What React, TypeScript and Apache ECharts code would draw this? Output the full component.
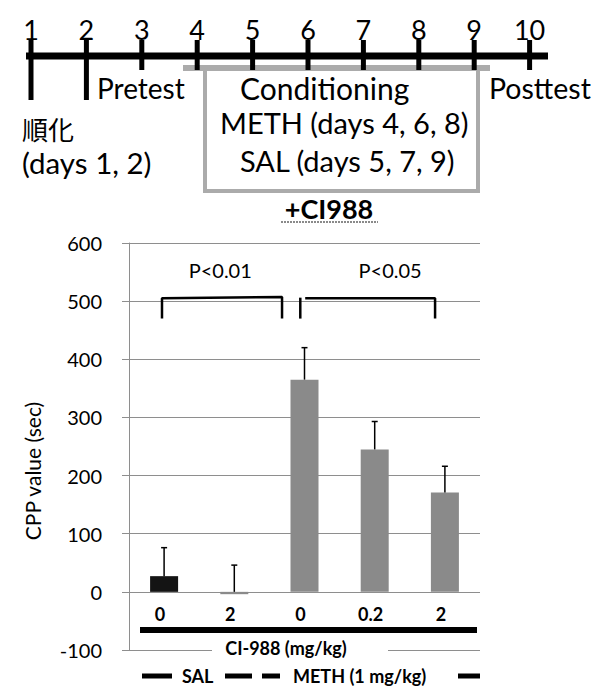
import React, { useEffect, useRef } from 'react';
import * as echarts from 'echarts';

// ---- data ----
const categories = ['0', '2', '0', '0.2', '2'];
const cppValues = [27, -4, 365, 245, 171];
const cppErrors = [49, 46, 55, 48, 45];
const yMin = -100;
const yMax = 600;
const yStep = 100;
const days = ['1', '2', '3', '4', '5', '6', '7', '8', '9', '10'];
const bracketLeft = [[-0.03, 470], [-0.03, 505], [1.68, 507], [1.68, 470]];
const bracketRightLeg = [[1.94, 470], [1.94, 506]];
const bracketRight = [[2.01, 505], [3.86, 505], [3.86, 470]];
const pValueLabels = ['P<0.01', 'P<0.05'];
const pValuePos = [[0.8, 554], [3.22, 554]];
const xAxisTitle = 'CI-988 (mg/kg)';
const yAxisTitle = 'CPP value (sec)';
const chartTitle = '+CI988';

// ---- styles ----
const barColors = ['#141414', '#8a8a8a', '#8a8a8a', '#8a8a8a', '#8a8a8a'];
const FONT = 'Lato';
const CJK = 'Noto Sans CJK JP';
const GRID = '#8e8e8e';

function txt(text: string, x: number, y: number, size: number, opts: any = {}) {
  const align = opts.align || 'left';
  return {
    type: 'text',
    z: 10,
    style: {
      text,
      x,
      y,
      fill: '#000',
      fontSize: size,
      fontFamily: opts.family || FONT,
      fontWeight: opts.weight || 'normal',
      align,
      verticalAlign: 'middle',
      textAlign: align,
      textVerticalAlign: 'middle',
    },
  };
}

function timelineGraphics() {
  const els: any[] = [];
  const t0 = 31;
  const step = 55.4;
  const lineY = 56;
  // grey conditioning box
  const boxStroke = { stroke: '#ababab', lineWidth: 4, fill: 'none' };
  els.push({ type: 'line', shape: { x1: 183, y1: 68, x2: 490, y2: 68 }, style: { stroke: '#ababab', lineWidth: 6 } });
  els.push({ type: 'polyline', shape: { points: [[205, 68], [205, 191], [478, 191], [478, 68]] }, style: boxStroke });
  // main line
  els.push({ type: 'line', shape: { x1: 26, y1: lineY, x2: 548, y2: lineY }, style: { stroke: '#000', lineWidth: 7 } });
  days.forEach((d, i) => {
    const x = t0 + i * step;
    els.push({ type: 'line', shape: { x1: x, y1: 40, x2: x, y2: i < 2 ? 100 : 70 }, style: { stroke: '#000', lineWidth: 5 } });
    els.push(txt(d, x, 29, 27, { align: 'center' }));
  });
  els.push(txt('Pretest', 97, 88, 28));
  els.push(txt('Conditioning', 240, 88, 30));
  els.push(txt('Posttest', 489, 88, 28.5));
  els.push(txt('順化', 22, 128, 26, { family: CJK }));
  els.push(txt('(days 1, 2)', 22, 162, 29.5));
  els.push(txt('METH (days 4, 6, 8)', 220, 122, 29));
  els.push(txt('SAL (days 5, 7, 9)', 240, 160, 29));
  return els;
}

function chartGraphics() {
  const els: any[] = [];
  // title with underline
  els.push(txt(chartTitle, 329, 208, 27, { align: 'center', weight: 'bold' }));
  els.push({ type: 'line', shape: { x1: 281, y1: 222, x2: 378, y2: 222 }, style: { stroke: '#8a8a8a', lineWidth: 2, lineDash: [2, 1] } });
  // y axis title
  els.push({
    type: 'text',
    x: 32,
    y: 471,
    rotation: Math.PI / 2,
    z: 10,
    style: {
      text: yAxisTitle, x: 0, y: 0, fill: '#000', fontSize: 21, fontFamily: FONT,
      align: 'center', verticalAlign: 'middle', textAlign: 'center', textVerticalAlign: 'middle',
    },
  });
  // group bar under category labels
  els.push({ type: 'rect', shape: { x: 140, y: 627, width: 337, height: 6 }, style: { fill: '#000' } });
  // x axis title with white backdrop
  els.push({ type: 'rect', shape: { x: 212, y: 640, width: 176, height: 18 }, style: { fill: '#fff' }, z: 9 });
  els.push(txt(xAxisTitle, 286, 648, 18, { align: 'center', weight: 'bold' }));
  // legend-like group row
  const ly = 676;
  const dash = (x1: number, x2: number) => ({ type: 'rect', shape: { x: x1, y: ly - 2.5, width: x2 - x1, height: 5 }, style: { fill: '#000' } });
  els.push(dash(142, 172));
  els.push(txt('SAL', 182, ly, 18, { weight: 'bold' }));
  els.push(dash(225, 252));
  els.push(dash(262, 280));
  els.push(txt('METH (1 mg/kg)', 293, ly, 18, { weight: 'bold' }));
  els.push(dash(458, 480));
  return els;
}

export default function App() {
  const ref = useRef<HTMLDivElement>(null);
  useEffect(() => {
    document.body.style.margin = '0';
    if (!ref.current) return;
    const chart = echarts.init(ref.current, undefined, { renderer: 'svg' });
    const bracketStyle = { color: '#000', width: 2.5 };
    const bracketSeries = [bracketLeft, bracketRightLeg, bracketRight].map((d) => ({
      type: 'line',
      xAxisIndex: 1,
      yAxisIndex: 0,
      data: d,
      symbol: 'none',
      lineStyle: bracketStyle,
      silent: true,
      z: 5,
    }));
    chart.setOption({
      animation: false,
      backgroundColor: '#fff',
      grid: { left: 129, right: 120, top: 243, bottom: 40, containLabel: false },
      xAxis: [
        {
          type: 'category',
          data: categories,
          boundaryGap: true,
          axisLine: { show: false, onZero: false },
          axisTick: { show: false },
          axisLabel: { show: false },
          splitLine: { show: false },
        },
        {
          type: 'value',
          min: -0.5,
          max: 4.5,
          show: false,
          axisLine: { onZero: false },
        },
      ],
      yAxis: {
        type: 'value',
        min: yMin,
        max: yMax,
        interval: yStep,
        axisLine: { show: true, onZero: false, lineStyle: { color: GRID, width: 1 } },
        axisTick: { show: true, length: 7, lineStyle: { color: GRID, width: 1 } },
        axisLabel: { color: '#000', fontFamily: FONT, fontSize: 20, margin: 27 },
        splitLine: { show: true, lineStyle: { color: GRID, width: 1 } },
      },
      series: [
        {
          type: 'bar',
          xAxisIndex: 0,
          barWidth: 28,
          data: cppValues.map((v, i) => ({ value: v, itemStyle: { color: barColors[i] } })),
          z: 3,
        },
        {
          // error bars + category labels placed below the zero line
          type: 'custom',
          xAxisIndex: 0,
          yAxisIndex: 0,
          z: 4,
          data: cppValues.map((v, i) => [i, Math.max(v, 0), cppErrors[i]]),
          renderItem: (params: any, api: any) => {
            const x = api.value(0);
            const v = api.value(1);
            const e = api.value(2);
            const p0 = api.coord([x, v]);
            const p1 = api.coord([x, v + e]);
            const pz = api.coord([x, 0]);
            const st = { stroke: '#000', lineWidth: 1.5 };
            return {
              type: 'group',
              children: [
                { type: 'line', shape: { x1: p0[0], y1: p0[1], x2: p1[0], y2: p1[1] }, style: st },
                { type: 'line', shape: { x1: p1[0] - 3, y1: p1[1], x2: p1[0] + 3, y2: p1[1] }, style: st },
                {
                  type: 'text',
                  style: {
                    text: categories[params.dataIndex],
                    x: pz[0] - 4,
                    y: pz[1] + 22,
                    fill: '#000',
                    fontFamily: FONT,
                    fontWeight: 'bold',
                    fontSize: 18,
                    align: 'center',
                    verticalAlign: 'middle',
                  },
                },
              ],
            };
          },
        },
        ...bracketSeries,
        {
          type: 'custom',
          xAxisIndex: 1,
          yAxisIndex: 0,
          z: 6,
          silent: true,
          data: pValuePos,
          renderItem: (params: any, api: any) => {
            const p = api.coord([api.value(0), api.value(1)]);
            return {
              type: 'text',
              style: {
                text: pValueLabels[params.dataIndex],
                x: p[0],
                y: p[1],
                fill: '#000',
                fontFamily: FONT,
                fontSize: 20,
                align: 'center',
                verticalAlign: 'middle',
              },
            };
          },
        },
      ],
      graphic: [...timelineGraphics(), ...chartGraphics()],
    });
    return () => chart.dispose();
  }, []);
  return <div ref={ref} style={{ width: 600, height: 690 }} />;
}
